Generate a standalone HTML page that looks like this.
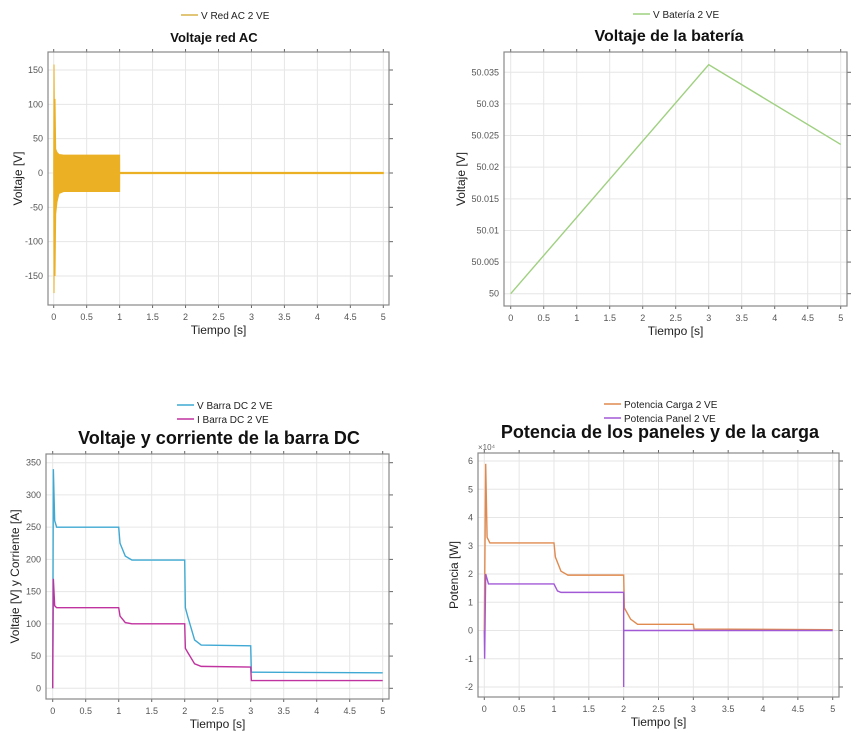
<!DOCTYPE html>
<html><head><meta charset="utf-8"><style>
body{margin:0;background:#fff;width:860px;height:733px;overflow:hidden}
svg{position:absolute;left:0;top:0}
text{font-family:"Liberation Sans",sans-serif}
</style></head><body>
<svg id="s" width="860" height="733"></svg>
<script>
// ---- data ----
const acTimes=[0,0.005,0.012,0.02,0.03,0.05,0.08,0.15,0.5,1.0,1.001,2,5];
const acUpper=[0,158,60,108,35,30,27,26,26,26,1,1,1];
const acLower=[0,-175,-40,-150,-60,-42,-30,-27,-27,-27,-1,-1,-1];
const batTimes=[0,3,5];
const batVolt=[50.0,50.0362,50.0236];
const dcTimes=[0,0.01,0.03,0.06,1.0,1.02,1.1,1.2,2.0,2.01,2.05,2.15,2.25,3.0,3.01,5];
const dcVolt=[0,340,260,250,250,225,205,199,199,125,110,75,67,66,25,24];
const dcCurr=[0,170,128,125,125,112,102,100,100,62,55,38,34,33,12,12];
const pTimesC=[0,0.02,0.04,0.08,1.0,1.02,1.1,1.2,2.0,2.01,2.1,2.2,3.0,3.01,5];
const pCarga=[0,5.9,3.3,3.1,3.1,2.6,2.1,1.96,1.96,0.8,0.4,0.22,0.22,0.05,0.03];
const pTimesP=[0,0.005,0.02,0.06,1.0,1.05,1.1,2.0,2.0,2.001,5];
const pPanel=[0,-1.0,2.0,1.65,1.65,1.4,1.35,1.35,-2.0,0,0];
const xTicks=[0,0.5,1,1.5,2,2.5,3,3.5,4,4.5,5];
const acYTicks=[-150,-100,-50,0,50,100,150];
const batYTicks=[50,50.005,50.01,50.015,50.02,50.025,50.03,50.035];
const dcYTicks=[0,50,100,150,200,250,300,350];
const pYTicks=[-2,-1,0,1,2,3,4,5,6];

const S=document.getElementById('s');const NS='http://www.w3.org/2000/svg';
function el(t,a,p){const e=document.createElementNS(NS,t);for(const k in a)e.setAttribute(k,a[k]);(p||S).appendChild(e);return e;}
function txt(x,y,s,a){const e=el('text',Object.assign({x:x,y:y},a));e.textContent=s;return e;}

function chart(o){
  const g=el('g',{});
  
  
  const X=v=>o.x0+(v-o.xmin)/(o.xmax-o.xmin)*(o.x1-o.x0);
  const Y=v=>o.y0+(v-o.ymin)/(o.ymax-o.ymin)*(o.y1-o.y0);
  el('rect',{x:o.bx0,y:o.by0,width:o.bx1-o.bx0,height:o.by1-o.by0,fill:'#fff',stroke:'none'},g);
  xTicks.forEach(v=>{
    el('line',{x1:X(v),x2:X(v),y1:o.by0,y2:o.by1,stroke:'#e6e6e6','stroke-width':1},g);
    el('line',{x1:X(v),x2:X(v),y1:o.by1,y2:o.by1+3,stroke:'#666'},g);
    el('line',{x1:X(v),x2:X(v),y1:o.by0,y2:o.by0-3,stroke:'#666'},g);
    const t=txt(X(v),o.by1+15,String(v),{'font-size':9,fill:'#555','text-anchor':'middle'},g);
    
  });
  o.yt.forEach(v=>{
    el('line',{x1:o.bx0,x2:o.bx1,y1:Y(v),y2:Y(v),stroke:'#e6e6e6'},g);
    el('line',{x1:o.bx1,x2:o.bx1+4,y1:Y(v),y2:Y(v),stroke:'#666'},g);
    const t=txt(o.bx0-5,Y(v)+3,o.fmt?o.fmt(v):String(v),{'font-size':9,fill:'#555','text-anchor':'end'},g);
    
  });
  el('rect',{x:o.bx0,y:o.by0,width:o.bx1-o.bx0,height:o.by1-o.by0,fill:'none',stroke:'#888','stroke-width':1.2},g);
  o.series.forEach(s=>{
    let d;
    if(s.band){
      const up=s.t.map((t,i)=>X(t)+','+Y(s.u[i]));
      const lo=s.t.map((t,i)=>X(t)+','+Y(s.l[i])).reverse();
      const p=el('polygon',{points:up.concat(lo).join(' '),fill:s.c,stroke:s.c,'stroke-width':1},g);
      
    }else{
      d=s.t.map((t,i)=>(i?'L':'M')+X(t)+' '+Y(s.v[i])).join(' ');
      const p=el('path',{d:d,fill:'none',stroke:s.c,'stroke-width':s.w||1.4},g);
      
    }
  });
  const tt=txt(o.tx,o.ty,o.title,{'font-size':o.tfs,'font-weight':'bold',fill:'#111','text-anchor':'middle'},g);
  
  const xt=txt((o.bx0+o.bx1)/2,o.by1+29,'Tiempo [s]',{'font-size':12,fill:'#222','text-anchor':'middle'},g);
  
  const yc=(o.by0+o.by1)/2;
  const yt=txt(o.yx,yc,o.ytitle,{'font-size':12,fill:'#222','text-anchor':'middle',transform:'rotate(-90 '+o.yx+' '+yc+')'},g);
  
  o.legend.forEach((l,i)=>{
    const y=o.ly+i*14;
    const ln=el('line',{x1:o.lx,x2:o.lx+17,y1:y,y2:y,stroke:l.c,'stroke-width':1.5},g);
    
    const t=txt(o.lx+20,y+4,l.t,{'font-size':10,fill:'#222'},g);
    
  });
  return g;
}

chart({name:'ac-voltage-chart',bx0:48,bx1:389,by0:52,by1:305,x0:53.7,x1:383.3,xmin:0,xmax:5,y0:173,y1:70,ymin:0,ymax:150,
  yt:acYTicks,title:'Voltaje red AC',tfs:13,tx:214,ty:42,ytitle:'Voltaje [V]',yx:22,lx:181,ly:15,
  legend:[{t:'V Red AC 2 VE',c:'#d9b44a'}],
  series:[{band:true,t:acTimes,u:acUpper,l:acLower,c:'#ebb024',name:'ac-voltage-series'}]});

chart({name:'battery-voltage-chart',bx0:504,bx1:847,by0:52,by1:306,x0:510.7,x1:840.7,xmin:0,xmax:5,y0:293.7,y1:72.3,ymin:50,ymax:50.035,
  yt:batYTicks,fmt:v=>String(+v.toFixed(3)),title:'Voltaje de la batería',tfs:16,tx:669,ty:41,ytitle:'Voltaje [V]',yx:465,lx:633,ly:14,
  legend:[{t:'V Batería 2 VE',c:'#9fd080'}],
  series:[{t:batTimes,v:batVolt,c:'#9fd080',name:'battery-voltage-line'}]});

chart({name:'dc-bus-chart',bx0:46,bx1:389,by0:454,by1:699,x0:52.7,x1:382.7,xmin:0,xmax:5,y0:688.3,y1:462.7,ymin:0,ymax:350,
  yt:dcYTicks,title:'Voltaje y corriente de la barra DC',tfs:18,tx:219,ty:444,ytitle:'Voltaje [V] y Corriente [A]',yx:19,lx:177,ly:405,
  legend:[{t:'V Barra DC 2 VE',c:'#3fa9d4'},{t:'I Barra DC 2 VE',c:'#c0329f'}],
  series:[{t:dcTimes,v:dcVolt,c:'#3fa9d4',name:'dc-voltage-line'},{t:dcTimes,v:dcCurr,c:'#c0329f',name:'dc-current-line'}]});

chart({name:'power-chart',bx0:478,bx1:839,by0:453,by1:697,x0:484.3,x1:832.7,xmin:0,xmax:5,y0:630.5,y1:461,ymin:0,ymax:6,
  yt:pYTicks,title:'Potencia de los paneles y de la carga',tfs:18,tx:660,ty:438,ytitle:'Potencia [W]',yx:458,lx:604,ly:404,
  legend:[{t:'Potencia Carga 2 VE',c:'#e08a4f'},{t:'Potencia Panel 2 VE',c:'#a259d6'}],
  series:[{t:pTimesC,v:pCarga,c:'#e08a4f',name:'load-power-line'},{t:pTimesP,v:pPanel,c:'#a259d6',name:'panel-power-line'}]});
const m=txt(478,450,'×10⁴',{'font-size':8,fill:'#666'});


</script>
</body></html>
